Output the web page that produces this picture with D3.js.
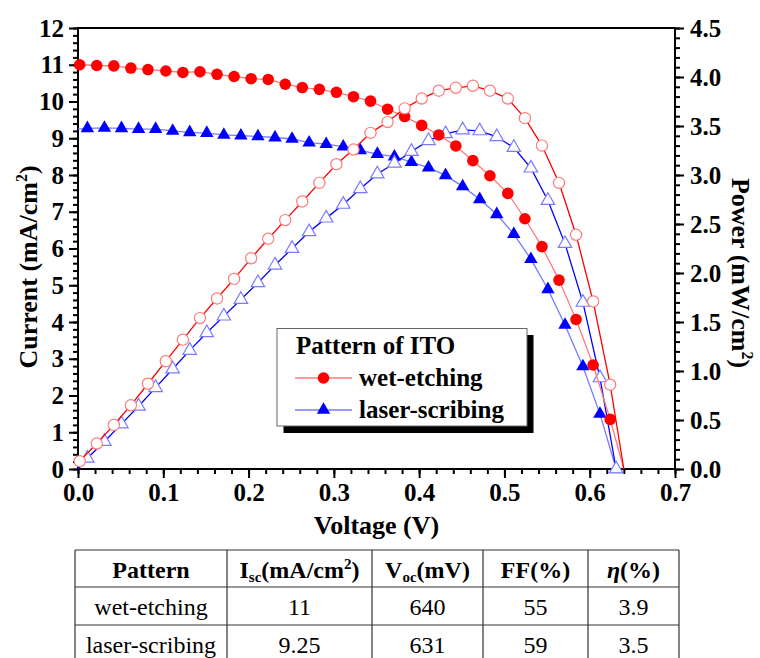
<!DOCTYPE html>
<html>
<head>
<meta charset="utf-8">
<script src="https://cdn.jsdelivr.net/npm/d3@7"></script>
<style>
  html, body { margin: 0; padding: 0; background: #fff; }
  svg { display: block; }
</style>
</head>
<body>
<svg id="chart" width="760" height="658" font-family="'Liberation Serif','Times New Roman',serif"></svg>
<script>
// J-V and P-V curves of cells with two ITO patterning methods
const voltWet = [0.002, 0.022, 0.042, 0.062, 0.082, 0.103, 0.123, 0.143, 0.163, 0.183,
                 0.203, 0.223, 0.243, 0.263, 0.283, 0.303, 0.323, 0.343, 0.363, 0.383,
                 0.403, 0.423, 0.443, 0.463, 0.483, 0.504, 0.524, 0.544, 0.564, 0.584,
                 0.604, 0.624];
const currentWet = [11.0, 10.98, 10.97, 10.91, 10.87, 10.83, 10.79, 10.81, 10.74, 10.68,
                    10.62, 10.60, 10.47, 10.38, 10.33, 10.25, 10.13, 10.01, 9.79, 9.59,
                    9.35, 9.09, 8.79, 8.39, 7.98, 7.50, 6.81, 6.05, 5.14, 4.07,
                    2.83, 1.35];
const powerWet = [0.08, 0.26, 0.45, 0.65, 0.87, 1.10, 1.32, 1.54, 1.74, 1.94,
                  2.15, 2.35, 2.54, 2.73, 2.92, 3.11, 3.26, 3.43, 3.54, 3.68,
                  3.78, 3.86, 3.89, 3.91, 3.86, 3.78, 3.58, 3.30, 2.92, 2.39,
                  1.71, 0.86];

const voltLaser = [0.011, 0.031, 0.051, 0.071, 0.091, 0.111, 0.131, 0.151, 0.171, 0.191,
                   0.211, 0.231, 0.251, 0.271, 0.291, 0.311, 0.331, 0.351, 0.371, 0.391,
                   0.411, 0.431, 0.451, 0.471, 0.491, 0.511, 0.531, 0.551, 0.571, 0.592,
                   0.612, 0.631];
const currentLaser = [9.27, 9.28, 9.27, 9.25, 9.25, 9.20, 9.16, 9.14, 9.09, 9.07,
                      9.05, 9.02, 8.98, 8.88, 8.84, 8.77, 8.67, 8.57, 8.50, 8.35,
                      8.20, 7.99, 7.69, 7.34, 6.93, 6.39, 5.71, 4.89, 3.92, 2.79,
                      1.50, 0.0];
const powerLaser = [0.11, 0.28, 0.46, 0.64, 0.83, 1.02, 1.21, 1.39, 1.56, 1.73,
                    1.90, 2.08, 2.25, 2.42, 2.56, 2.70, 2.86, 3.01, 3.12, 3.24,
                    3.35, 3.42, 3.46, 3.45, 3.39, 3.28, 3.07, 2.74, 2.30, 1.70,
                    0.93, 0.0];

const voltTicks = [0.0, 0.1, 0.2, 0.3, 0.4, 0.5, 0.6, 0.7];
const currentTicks = [0, 1, 2, 3, 4, 5, 6, 7, 8, 9, 10, 11, 12];
const powerTicks = [0.0, 0.5, 1.0, 1.5, 2.0, 2.5, 3.0, 3.5, 4.0, 4.5];

const legendLabels = ["wet-etching", "laser-scribing"];
const tableHeader = ["Pattern", "Isc", "Voc", "FF(%)", "η(%)"];
const tableRows = [
  ["wet-etching", "11", "640", "55", "3.9"],
  ["laser-scribing", "9.25", "631", "59", "3.5"]
];

// short-circuit current and open-circuit voltage from the summary table
const iscWet = +tableRows[0][1], vocWet = +tableRows[0][2] / 1000;
const iscLaser = +tableRows[1][1], vocLaser = +tableRows[1][2] / 1000;

const SERIF = "'Liberation Serif','Times New Roman',serif";
const svg = d3.select("#chart");
const plotLeft = 78, plotRight = 675, plotTop = 28, plotBottom = 469;

const x = d3.scaleLinear().domain([0, 0.7]).range([plotLeft, plotRight]);
const yI = d3.scaleLinear().domain([0, 12]).range([plotBottom, plotTop]);
const yP = d3.scaleLinear().domain([0, 4.5]).range([plotBottom, plotTop]);

const RED = "#ff0000", BLUE = "#0000ff";
const RED_LIGHT = "#ff7a7a", BLUE_LIGHT = "#7a7aff";

// ---- axes ----
function styleAxis(g, fontSize) {
  g.attr("font-family", SERIF);
  g.select(".domain").remove();
  g.selectAll(".tick line").attr("stroke", "#000").attr("stroke-width", 2);
  g.selectAll(".tick text")
    .attr("fill", "#000")
    .style("font-family", SERIF)
    .style("font-weight", "bold")
    .style("font-size", fontSize + "px");
}

const minorV = d3.range(0, 36).map(i => i * 0.02).filter(v => v <= 0.7001);
const minorI = d3.range(0, 61).map(i => i * 0.2);
const minorP = d3.range(0, 46).map(i => i * 0.1);

svg.append("g").attr("transform", `translate(0,${plotBottom})`)
  .call(d3.axisBottom(x).tickValues(minorV).tickSize(5).tickFormat(""))
  .call(g => styleAxis(g, 25));
svg.append("g").attr("transform", `translate(0,${plotBottom})`)
  .call(d3.axisBottom(x).tickValues(voltTicks).tickSize(9).tickPadding(5).tickFormat(d3.format(".1f")))
  .call(g => styleAxis(g, 25));

svg.append("g").attr("transform", `translate(${plotLeft},0)`)
  .call(d3.axisLeft(yI).tickValues(minorI).tickSize(5).tickFormat(""))
  .call(g => styleAxis(g, 25));
svg.append("g").attr("transform", `translate(${plotLeft},0)`)
  .call(d3.axisLeft(yI).tickValues(currentTicks).tickSize(9).tickPadding(5).tickFormat(d3.format("d")))
  .call(g => styleAxis(g, 25));

svg.append("g").attr("transform", `translate(${plotRight},0)`)
  .call(d3.axisRight(yP).tickValues(minorP).tickSize(5).tickFormat(""))
  .call(g => styleAxis(g, 25));
svg.append("g").attr("transform", `translate(${plotRight},0)`)
  .call(d3.axisRight(yP).tickValues(powerTicks).tickSize(9).tickPadding(6).tickFormat(d3.format(".1f")))
  .call(g => styleAxis(g, 25));

// frame
svg.append("rect")
  .attr("x", plotLeft).attr("y", plotTop)
  .attr("width", plotRight - plotLeft).attr("height", plotBottom - plotTop)
  .attr("fill", "none").attr("stroke", "#000").attr("stroke-width", 2);

// ---- axis titles ----
const titleFont = 26;
const yTitle = svg.append("text")
  .attr("transform", `translate(37,267) rotate(-90)`)
  .attr("text-anchor", "middle")
  .style("font-weight", "bold").style("font-size", titleFont + "px");
yTitle.append("tspan").text("Current (mA/cm");
yTitle.append("tspan").attr("dy", -10).style("font-size", "16px").text("2");
yTitle.append("tspan").attr("dy", 10).text(")");

const pTitle = svg.append("text")
  .attr("transform", `translate(732,273) rotate(90)`)
  .attr("text-anchor", "middle")
  .style("font-weight", "bold").style("font-size", titleFont + "px");
pTitle.append("tspan").text("Power (mW/cm");
pTitle.append("tspan").attr("dy", -10).style("font-size", "16px").text("2");
pTitle.append("tspan").attr("dy", 10).text(")");

svg.append("text")
  .attr("x", (plotLeft + plotRight) / 2).attr("y", 534)
  .attr("text-anchor", "middle")
  .style("font-weight", "bold").style("font-size", titleFont + "px")
  .text("Voltage (V)");

// ---- data ----
const zip = (xs, ys) => xs.map((v, i) => [v, ys[i]]);
const wetI = zip(voltWet, currentWet);
const wetP = zip(voltWet, powerWet);
const lasI = zip(voltLaser, currentLaser);
const lasP = zip(voltLaser, powerLaser);

const lineI = d3.line().x(d => x(d[0])).y(d => yI(d[1]));
const lineP = d3.line().x(d => x(d[0])).y(d => yP(d[1]));

const plot = svg.append("g");
const tri = d3.symbol().type(d3.symbolTriangle).size(78);

// laser-scribing
plot.append("path").datum([[0, iscLaser], ...lasI])
  .attr("d", lineI).attr("fill", "none").attr("stroke", BLUE_LIGHT).attr("stroke-width", 1.3);
plot.append("path").datum([[0, 0], ...lasP])
  .attr("d", lineP).attr("fill", "none").attr("stroke", BLUE).attr("stroke-width", 1.3);
plot.append("g").selectAll("path").data(lasI).join("path")
  .attr("transform", d => `translate(${x(d[0])},${yI(d[1])})`)
  .attr("d", tri).attr("fill", BLUE);
plot.append("g").selectAll("path").data(lasP).join("path")
  .attr("transform", d => `translate(${x(d[0])},${yP(d[1])})`)
  .attr("d", tri).attr("fill", "#fff").attr("stroke", BLUE_LIGHT).attr("stroke-width", 1.2);

// wet-etching
plot.append("path").datum([...wetI, [vocWet, 0]])
  .attr("d", lineI).attr("fill", "none").attr("stroke", RED_LIGHT).attr("stroke-width", 1.3);
plot.append("path").datum([...wetP, [vocWet, 0]])
  .attr("d", lineP).attr("fill", "none").attr("stroke", RED).attr("stroke-width", 1.3);
plot.append("g").selectAll("circle").data(wetI).join("circle")
  .attr("cx", d => x(d[0])).attr("cy", d => yI(d[1])).attr("r", 5.8)
  .attr("fill", RED);
plot.append("g").selectAll("circle").data(wetP).join("circle")
  .attr("cx", d => x(d[0])).attr("cy", d => yP(d[1])).attr("r", 5.6)
  .attr("fill", "#fff").attr("stroke", RED_LIGHT).attr("stroke-width", 1.2);

// ---- legend ----
const lg = svg.append("g").attr("font-family", SERIF);
lg.append("rect").attr("x", 283.5).attr("y", 335).attr("width", 250).attr("height", 98).attr("fill", "#000");
lg.append("rect").attr("x", 277).attr("y", 328.5).attr("width", 250).attr("height", 97.5)
  .attr("fill", "#fff").attr("stroke", "#666").attr("stroke-width", 1);
lg.append("text").attr("x", 296).attr("y", 354)
  .style("font-weight", "bold").style("font-size", "25px").text("Pattern of ITO");

const legendRows = [
  { label: legendLabels[0], y: 378, line: RED_LIGHT, fill: RED, shape: "circle" },
  { label: legendLabels[1], y: 410, line: BLUE_LIGHT, fill: BLUE, shape: "triangle" }
];
legendRows.forEach(r => {
  lg.append("line").attr("x1", 295).attr("x2", 352).attr("y1", r.y).attr("y2", r.y)
    .attr("stroke", r.line).attr("stroke-width", 1.3);
  if (r.shape === "circle") {
    lg.append("circle").attr("cx", 323.5).attr("cy", r.y).attr("r", 5.8).attr("fill", r.fill);
  } else {
    lg.append("path").attr("transform", `translate(323.5,${r.y})`).attr("d", tri).attr("fill", r.fill);
  }
  lg.append("text").attr("x", 359).attr("y", r.y + 8)
    .style("font-weight", "bold").style("font-size", "25px").text(r.label);
});

// ---- summary table ----
const colX = [75, 227, 372, 483, 588, 679];
const rowY = [550, 587, 625, 663];
const tg = svg.append("g").attr("font-family", SERIF);
colX.forEach(cx => tg.append("line").attr("x1", cx).attr("x2", cx).attr("y1", rowY[0]).attr("y2", 670)
  .attr("stroke", "#333").attr("stroke-width", 1.2));
rowY.forEach(ry => tg.append("line").attr("x1", colX[0]).attr("x2", colX[colX.length - 1]).attr("y1", ry).attr("y2", ry)
  .attr("stroke", "#333").attr("stroke-width", 1.2));

const colCenter = i => (colX[i] + colX[i + 1]) / 2;
const headY = 578;
// header cells
tg.append("text").attr("x", colCenter(0)).attr("y", headY).attr("text-anchor", "middle")
  .style("font-weight", "bold").style("font-size", "24px").text(tableHeader[0]);
{
  const t = tg.append("text").attr("x", colCenter(1)).attr("y", headY).attr("text-anchor", "middle")
    .style("font-weight", "bold").style("font-size", "24px");
  t.append("tspan").text("I");
  t.append("tspan").attr("dy", 4).style("font-size", "15px").text("sc");
  t.append("tspan").attr("dy", -4).text("(mA/cm");
  t.append("tspan").attr("dy", -9).style("font-size", "15px").text("2");
  t.append("tspan").attr("dy", 9).text(")");
}
{
  const t = tg.append("text").attr("x", colCenter(2)).attr("y", headY).attr("text-anchor", "middle")
    .style("font-weight", "bold").style("font-size", "24px");
  t.append("tspan").text("V");
  t.append("tspan").attr("dy", 4).style("font-size", "15px").text("oc");
  t.append("tspan").attr("dy", -4).text("(mV)");
}
tg.append("text").attr("x", colCenter(3)).attr("y", headY).attr("text-anchor", "middle")
  .style("font-weight", "bold").style("font-size", "24px").text(tableHeader[3]);
{
  const t = tg.append("text").attr("x", colCenter(4)).attr("y", headY).attr("text-anchor", "middle")
    .style("font-weight", "bold").style("font-size", "24px");
  t.append("tspan").style("font-style", "italic").text(tableHeader[4].slice(0, 1));
  t.append("tspan").text(tableHeader[4].slice(1));
}
// body cells
const bodyY = [615, 653];
tableRows.forEach((row, r) => {
  row.forEach((cell, c) => {
    tg.append("text").attr("x", colCenter(c)).attr("y", bodyY[r]).attr("text-anchor", "middle")
      .style("font-size", "24px").text(cell);
  });
});
</script>
</body>
</html>
